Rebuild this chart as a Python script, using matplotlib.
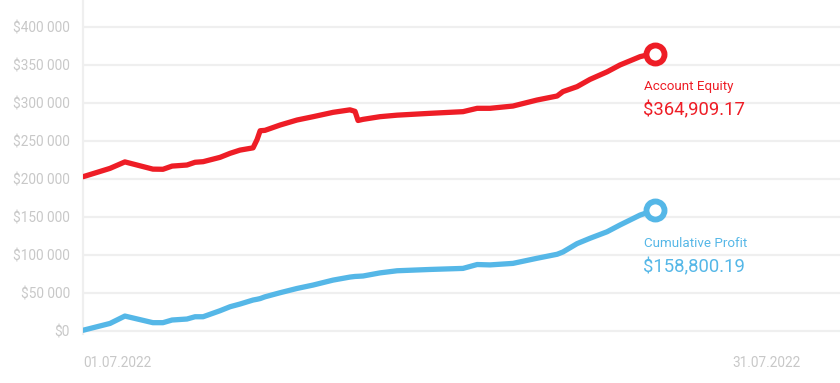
#!/usr/bin/env python3
"""Account equity vs cumulative profit, July 2022."""
import matplotlib
matplotlib.use('Agg')
import matplotlib.pyplot as plt
from matplotlib.ticker import FuncFormatter

plt.rcParams.update({'font.family': ['Roboto', 'DejaVu Sans']})

C = {'equity': '#EE1D26', 'profit': '#55B7E7', 'grid': '#EFEFEF', 'tick': '#C8C8C8'}

# days since 01.07.2022
days = [0.00, 1.07, 1.66, 2.77, 3.17, 3.53, 4.12, 4.44, 4.76, 5.43, 5.83, 6.22, 6.74,
        6.90, 7.02, 7.21, 7.81, 8.48, 9.12, 9.91, 10.58, 10.78, 10.90, 11.10, 11.77,
        12.45, 13.75, 15.06, 15.62, 16.13, 17.04, 17.99, 18.79, 19.02, 19.58, 20.09,
        20.77, 21.28, 22.08, 22.47, 22.67]
equity = [203000, 214000, 222500, 213000, 212800, 217000, 218400, 222000, 222800,
          228500, 233800, 238000, 241000, 252000, 263500, 264000, 271000, 277600,
          282000, 287700, 291000, 289000, 277000, 278500, 282000, 284000, 286400,
          288600, 293000, 293000, 296000, 303900, 309200, 315000, 321500, 331000,
          341000, 350000, 361000, 364000, 364909.17]
profit = [1000, 10000, 19700, 11000, 11000, 14500, 15800, 18800, 18800, 26700, 32000,
          35500, 40800, 41800, 42700, 45000, 50400, 56000, 60500, 67000, 71000, 71800,
          72000, 72400, 76500, 79300, 81000, 82400, 87500, 87000, 89000, 95700, 101000,
          104000, 115000, 122000, 130600, 139500, 152600, 157000, 158800.19]
date_labels = ['01.07.2022', '31.07.2022']
yticks = [0, 50000, 100000, 150000, 200000, 250000, 300000, 350000, 400000]

fig = plt.figure(figsize=(8.4, 3.83), dpi=100)
ax = fig.add_axes([83 / 840, 49 / 383, 757 / 840, 334 / 383])

series = [(equity, C['equity'], 'Account Equity'),
          (profit, C['profit'], 'Cumulative Profit')]
for vals, col, name in series:
    ax.plot(days, vals, color=col, lw=3.8, solid_capstyle='round',
            solid_joinstyle='round', zorder=3)
    ax.plot(days[-1], vals[-1], 'o', ms=13, mfc='white', mec=col, mew=4.2, zorder=4)
    ax.annotate(name, (days[-1], vals[-1]), xytext=(-8, -24), textcoords='offset points',
                ha='left', va='center', fontsize=9.6, color=col)
    ax.annotate(f'${vals[-1]:,.2f}', (days[-1], vals[-1]), xytext=(-9, -41),
                textcoords='offset points', ha='left', va='center', fontsize=13.3, color=col)

ax.set_xlim(0, 30)
ax.set_ylim(-3900, 435500)
ax.set_yticks(yticks)
ax.yaxis.set_major_formatter(FuncFormatter(lambda v, p: '$' + f'{int(v):,}'.replace(',', ' ')))
ax.tick_params(axis='y', length=0, pad=9.5, labelsize=9.8, labelcolor=C['tick'])
ax.set_xticks([0, 28.42])
ax.set_xticklabels(date_labels)
ax.tick_params(axis='x', length=0, pad=15.5, labelsize=9.8, labelcolor=C['tick'])
for lab, ha in zip(ax.get_xticklabels(), ['left', 'right']):
    lab.set_ha(ha)

ax.grid(axis='y', color=C['grid'], lw=1.6)
ax.set_axisbelow(True)
for s in ['top', 'right', 'bottom']:
    ax.spines[s].set_visible(False)
ax.spines['left'].set_color(C['grid'])
ax.spines['left'].set_linewidth(1.6)

fig.savefig('out.png', dpi=100, facecolor='white')
plt.close(fig)
